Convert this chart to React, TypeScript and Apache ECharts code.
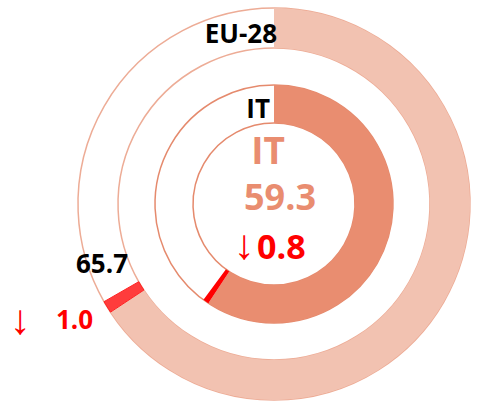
import React, { useEffect, useRef } from "react";
import * as echarts from "echarts";

const outerLabel = "EU-28";
const innerLabel = "IT";
const outerValue = 65.7;
const outerChange = 1.0;
const innerValue = 59.3;
const innerChange = 0.8;

const FONT = "'Open Sans', 'Noto Sans', sans-serif";

export default function App() {
  const ref = useRef<HTMLDivElement>(null);
  useEffect(() => {
    if (!ref.current) return;
    const chart = echarts.init(ref.current, undefined, { renderer: "svg" });
    const center = [274, 204];
    const outerR = [156, 196];
    const innerR = [81, 119];
    const base = {
      type: "pie",
      center,
      startAngle: 90,
      clockwise: true,
      silent: true,
      label: { show: false },
      labelLine: { show: false },
      emphasis: { disabled: true },
    };
    const txt = (x: number, y: number, text: string, size: number, fill: string, align: string, bold = true, family = FONT) => ({
      type: "text",
      x,
      y,
      z: 100,
      silent: true,
      style: {
        text,
        fontFamily: family,
        fontWeight: bold ? "bold" : "normal",
        fontSize: size,
        fill,
        textAlign: align,
        textVerticalAlign: "middle",
      },
    });
    const ARROW = "'Liberation Sans', 'DejaVu Sans', sans-serif";
    chart.setOption({
      animation: false,
      series: [
        {
          ...base,
          z: 1,
          radius: outerR,
          data: [{ value: 100, itemStyle: { color: "#ffffff", borderColor: "#EDAC96", borderWidth: 1.5 } }],
        },
        {
          ...base,
          z: 2,
          radius: outerR,
          data: [
            { value: outerValue, itemStyle: { color: "#F2C2B1" } },
            { value: outerChange, itemStyle: { color: "#FF3C3C", borderColor: "#F22", borderWidth: 1 } },
            { value: 100 - outerValue - outerChange, itemStyle: { color: "rgba(0,0,0,0)" } },
          ],
        },
        {
          ...base,
          z: 1,
          radius: innerR,
          data: [{ value: 100, itemStyle: { color: "#ffffff", borderColor: "#E58A6D", borderWidth: 1.5 } }],
        },
        {
          ...base,
          z: 2,
          radius: innerR,
          data: [
            { value: innerValue, itemStyle: { color: "#E98D70" } },
            { value: innerChange, itemStyle: { color: "#FF0000" } },
            { value: 100 - innerValue - innerChange, itemStyle: { color: "rgba(0,0,0,0)" } },
          ],
        },
      ],
      graphic: [
        txt(277, 33, outerLabel, 26, "#000", "right"),
        txt(270, 108, innerLabel, 26, "#000", "right"),
        txt(268, 149, innerLabel, 37, "#E98D70", "center"),
        txt(280, 196, innerValue.toFixed(1), 36, "#E98D70", "center"),
        txt(244, 244, "↓", 42, "#FF0000", "center", false, ARROW),
        txt(257, 246, innerChange.toFixed(1), 34, "#FF0000", "left"),
        txt(102, 263, outerValue.toFixed(1), 26, "#000", "center"),
        txt(20, 319, "↓", 42, "#FF0000", "center", false, ARROW),
        txt(56, 319, outerChange.toFixed(1), 26, "#FF0000", "left"),
      ],
    });
    return () => chart.dispose();
  }, []);
  return (
    <div
      ref={ref}
      style={{ position: "fixed", left: 0, top: 0, width: 481, height: 405, background: "#fff" }}
    />
  );
}
